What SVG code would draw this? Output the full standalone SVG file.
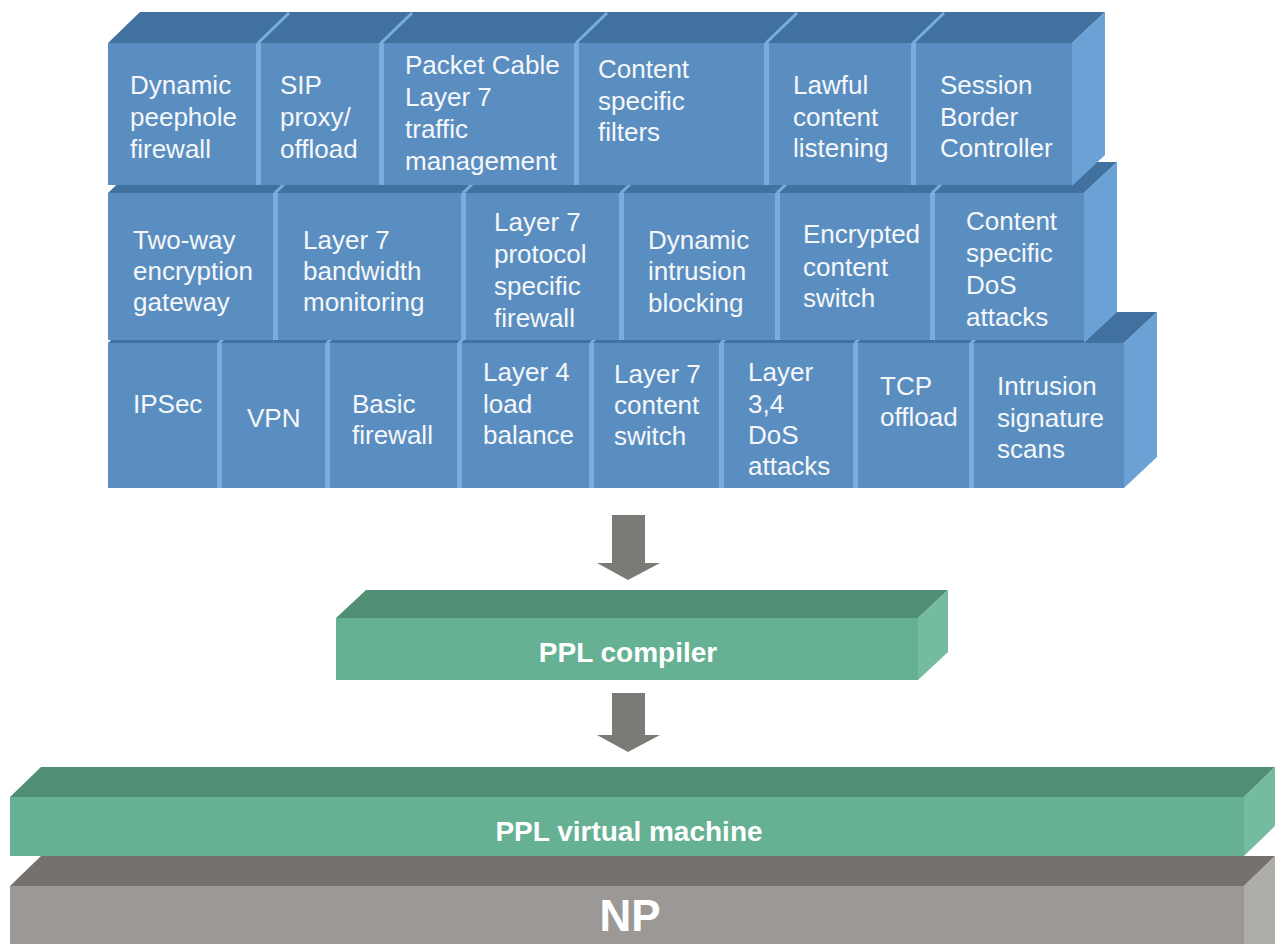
<svg xmlns="http://www.w3.org/2000/svg" width="1279" height="944" viewBox="0 0 1279 944">
  <style>
    .front { fill: #5b8ec0; }
    .top { fill: #41719f; }
    .side { fill: #6ba2d5; }
    .seam { fill: #79addc; }
    .seamline { stroke: #79addc; stroke-width: 3; fill: none; }
    .lbl { font-family: "Liberation Sans", Arial, sans-serif; font-size: 26px; fill: #f5f7fa; }
    .gfront { fill: #66b093; }
    .gtop { fill: #518f74; }
    .gside { fill: #74bb9f; }
    .kfront { fill: #9b9895; }
    .ktop { fill: #76716e; }
    .kside { fill: #afada9; }
    .big { font-family: "Liberation Sans", Arial, sans-serif; font-weight: bold; fill: #ffffff; text-anchor: middle; }
    .arrow { fill: #7b7a77; }
  </style>

  <rect width="1279" height="944" fill="#ffffff"/>

  <!-- Row 3 (bottom row of functions) -->
  <g id="row3">
    <g id="ipsec">
      <polygon class="top" points="108,343 218,343 250,312 140,312"/>
      <rect class="front" x="108" y="343" width="110" height="145"/>
      <text class="lbl" x="133" y="413">IPSec</text>
    </g>
    <g id="vpn">
      <polygon class="top" points="218,343 326,343 358,312 250,312"/>
      <rect class="front" x="218" y="343" width="108" height="145"/>
      <rect class="seam" x="217" y="343" width="5" height="145"/>
      <line class="seamline" x1="219" y1="343" x2="250" y2="313"/>
      <text class="lbl" x="247" y="427">VPN</text>
    </g>
    <g id="basic-firewall">
      <polygon class="top" points="326,343 458,343 490,312 358,312"/>
      <rect class="front" x="326" y="343" width="132" height="145"/>
      <rect class="seam" x="325" y="343" width="5" height="145"/>
      <line class="seamline" x1="327" y1="343" x2="358" y2="313"/>
      <text class="lbl" x="352" y="413">Basic<tspan x="352" dy="31">firewall</tspan></text>
    </g>
    <g id="l4-load-balance">
      <polygon class="top" points="458,343 590,343 622,312 490,312"/>
      <rect class="front" x="458" y="343" width="132" height="145"/>
      <rect class="seam" x="457" y="343" width="5" height="145"/>
      <line class="seamline" x1="459" y1="343" x2="490" y2="313"/>
      <text class="lbl" x="483" y="381">Layer 4<tspan x="483" dy="32">load</tspan><tspan x="483" dy="31">balance</tspan></text>
    </g>
    <g id="l7-content-switch">
      <polygon class="top" points="590,343 720,343 752,312 622,312"/>
      <rect class="front" x="590" y="343" width="130" height="145"/>
      <rect class="seam" x="589" y="343" width="5" height="145"/>
      <line class="seamline" x1="591" y1="343" x2="622" y2="313"/>
      <text class="lbl" x="614" y="383">Layer 7<tspan x="614" dy="31">content</tspan><tspan x="614" dy="31">switch</tspan></text>
    </g>
    <g id="l34-dos">
      <polygon class="top" points="720,343 854,343 886,312 752,312"/>
      <rect class="front" x="720" y="343" width="134" height="145"/>
      <rect class="seam" x="719" y="343" width="5" height="145"/>
      <line class="seamline" x1="721" y1="343" x2="752" y2="313"/>
      <text class="lbl" x="748" y="381">Layer<tspan x="748" dy="32">3,4</tspan><tspan x="748" dy="31">DoS</tspan><tspan x="748" dy="31">attacks</tspan></text>
    </g>
    <g id="tcp-offload">
      <polygon class="top" points="854,343 970,343 1002,312 886,312"/>
      <rect class="front" x="854" y="343" width="116" height="145"/>
      <rect class="seam" x="853" y="343" width="5" height="145"/>
      <line class="seamline" x1="855" y1="343" x2="886" y2="313"/>
      <text class="lbl" x="880" y="395">TCP<tspan x="880" dy="31">offload</tspan></text>
    </g>
    <g id="intrusion-scans">
      <polygon class="top" points="970,343 1124,343 1157,312 1002,312"/>
      <polygon class="side" points="1124,343 1157,312 1157,457 1124,488"/>
      <rect class="front" x="970" y="343" width="154" height="145"/>
      <rect class="seam" x="969" y="343" width="5" height="145"/>
      <line class="seamline" x1="971" y1="343" x2="1002" y2="313"/>
      <text class="lbl" x="997" y="395">Intrusion<tspan x="997" dy="32">signature</tspan><tspan x="997" dy="31">scans</tspan></text>
    </g>
  </g>

  <!-- Row 2 (middle row of functions) -->
  <g id="row2">
    <g id="two-way-encryption">
      <polygon class="top" points="108,193 274,193 306,162 140,162"/>
      <rect class="front" x="108" y="193" width="166" height="147"/>
      <text class="lbl" x="133" y="249">Two-way<tspan x="133" dy="31">encryption</tspan><tspan x="133" dy="31">gateway</tspan></text>
    </g>
    <g id="l7-bandwidth">
      <polygon class="top" points="274,193 462,193 494,162 306,162"/>
      <rect class="front" x="274" y="193" width="188" height="147"/>
      <rect class="seam" x="273" y="193" width="5" height="147"/>
      <line class="seamline" x1="275" y1="193" x2="306" y2="163"/>
      <text class="lbl" x="303" y="249">Layer 7<tspan x="303" dy="31">bandwidth</tspan><tspan x="303" dy="31">monitoring</tspan></text>
    </g>
    <g id="l7-protocol-firewall">
      <polygon class="top" points="462,193 620,193 652,162 494,162"/>
      <rect class="front" x="462" y="193" width="158" height="147"/>
      <rect class="seam" x="461" y="193" width="5" height="147"/>
      <line class="seamline" x1="463" y1="193" x2="494" y2="163"/>
      <text class="lbl" x="494" y="231">Layer 7<tspan x="494" dy="32">protocol</tspan><tspan x="494" dy="32">specific</tspan><tspan x="494" dy="32">firewall</tspan></text>
    </g>
    <g id="dynamic-intrusion">
      <polygon class="top" points="620,193 776,193 808,162 652,162"/>
      <rect class="front" x="620" y="193" width="156" height="147"/>
      <rect class="seam" x="619" y="193" width="5" height="147"/>
      <line class="seamline" x1="621" y1="193" x2="652" y2="163"/>
      <text class="lbl" x="648" y="249">Dynamic<tspan x="648" dy="31">intrusion</tspan><tspan x="648" dy="32">blocking</tspan></text>
    </g>
    <g id="encrypted-switch">
      <polygon class="top" points="776,193 931,193 963,162 808,162"/>
      <rect class="front" x="776" y="193" width="155" height="147"/>
      <rect class="seam" x="775" y="193" width="5" height="147"/>
      <line class="seamline" x1="777" y1="193" x2="808" y2="163"/>
      <text class="lbl" x="803" y="243">Encrypted<tspan x="803" dy="33">content</tspan><tspan x="803" dy="31">switch</tspan></text>
    </g>
    <g id="content-dos">
      <polygon class="top" points="931,193 1084,193 1117,162 963,162"/>
      <polygon class="side" points="1084,193 1117,162 1117,312 1084,343"/>
      <rect class="front" x="931" y="193" width="153" height="147"/>
      <rect class="seam" x="930" y="193" width="5" height="147"/>
      <line class="seamline" x1="932" y1="193" x2="963" y2="163"/>
      <text class="lbl" x="966" y="230">Content<tspan x="966" dy="32">specific</tspan><tspan x="966" dy="32">DoS</tspan><tspan x="966" dy="32">attacks</tspan></text>
    </g>
  </g>

  <!-- Row 1 (top row of functions) -->
  <g id="row1">
    <g id="dynamic-peephole">
      <polygon class="top" points="108,43 257,43 289,12 140,12"/>
      <rect class="front" x="108" y="43" width="149" height="142"/>
      <text class="lbl" x="130" y="94">Dynamic<tspan x="130" dy="32">peephole</tspan><tspan x="130" dy="32">firewall</tspan></text>
    </g>
    <g id="sip-proxy">
      <polygon class="top" points="257,43 380,43 412,12 289,12"/>
      <rect class="front" x="257" y="43" width="123" height="142"/>
      <rect class="seam" x="256" y="43" width="5" height="142"/>
      <line class="seamline" x1="258" y1="43" x2="289" y2="13"/>
      <text class="lbl" x="280" y="94">SIP<tspan x="280" dy="32">proxy/</tspan><tspan x="280" dy="32">offload</tspan></text>
    </g>
    <g id="packetcable">
      <polygon class="top" points="380,43 575,43 607,12 412,12"/>
      <rect class="front" x="380" y="43" width="195" height="142"/>
      <rect class="seam" x="379" y="43" width="5" height="142"/>
      <line class="seamline" x1="381" y1="43" x2="412" y2="13"/>
      <text class="lbl" x="405" y="74">Packet Cable<tspan x="405" dy="32">Layer 7</tspan><tspan x="405" dy="32">traffic</tspan><tspan x="405" dy="32">management</tspan></text>
    </g>
    <g id="content-filters">
      <polygon class="top" points="575,43 765,43 797,12 607,12"/>
      <rect class="front" x="575" y="43" width="190" height="142"/>
      <rect class="seam" x="574" y="43" width="5" height="142"/>
      <line class="seamline" x1="576" y1="43" x2="607" y2="13"/>
      <text class="lbl" x="598" y="78">Content<tspan x="598" dy="32">specific</tspan><tspan x="598" dy="31">filters</tspan></text>
    </g>
    <g id="lawful-listening">
      <polygon class="top" points="765,43 912,43 944,12 797,12"/>
      <rect class="front" x="765" y="43" width="147" height="142"/>
      <rect class="seam" x="764" y="43" width="5" height="142"/>
      <line class="seamline" x1="766" y1="43" x2="797" y2="13"/>
      <text class="lbl" x="793" y="94">Lawful<tspan x="793" dy="32">content</tspan><tspan x="793" dy="31">listening</tspan></text>
    </g>
    <g id="session-border">
      <polygon class="top" points="912,43 1072,43 1105,12 944,12"/>
      <polygon class="side" points="1072,43 1105,12 1105,155 1072,186"/>
      <rect class="front" x="912" y="43" width="160" height="142"/>
      <rect class="seam" x="911" y="43" width="5" height="142"/>
      <line class="seamline" x1="913" y1="43" x2="944" y2="13"/>
      <text class="lbl" x="940" y="94">Session<tspan x="940" dy="32">Border</tspan><tspan x="940" dy="31">Controller</tspan></text>
    </g>
  </g>

  <!-- Compiler layer -->
  <g id="ppl-compiler">
    <polygon class="gtop" points="336,618 918,618 948,590 366,590"/>
    <polygon class="gside" points="918,618 948,590 948,652 918,680"/>
    <rect class="gfront" x="336" y="618" width="582" height="62"/>
    <text class="big" x="628" y="662" font-size="28">PPL compiler</text>
  </g>

  <!-- Virtual machine layer -->
  <g id="ppl-vm">
    <polygon class="gtop" points="10,797 1244,797 1275,767 41,767"/>
    <polygon class="gside" points="1244,797 1275,767 1275,826 1244,856"/>
    <rect class="gfront" x="10" y="797" width="1234" height="59"/>
    <text class="big" x="629" y="841" font-size="28">PPL virtual machine</text>
  </g>

  <!-- Network processor layer -->
  <g id="np">
    <polygon class="ktop" points="10,886 1244,886 1275,856 41,856"/>
    <polygon class="kside" points="1244,886 1275,856 1275,944 1244,944"/>
    <rect class="kfront" x="10" y="886" width="1234" height="58"/>
    <text class="big" x="630" y="931" font-size="44">NP</text>
  </g>

  <!-- Flow arrows between layers -->
  <g id="connectors">
    <polygon class="arrow" points="612,515 645,515 645,563 660,563 628,580 597,563 612,563"/>
    <polygon class="arrow" points="612,693 645,693 645,735 660,735 628,752 597,735 612,735"/>
  </g>
</svg>
